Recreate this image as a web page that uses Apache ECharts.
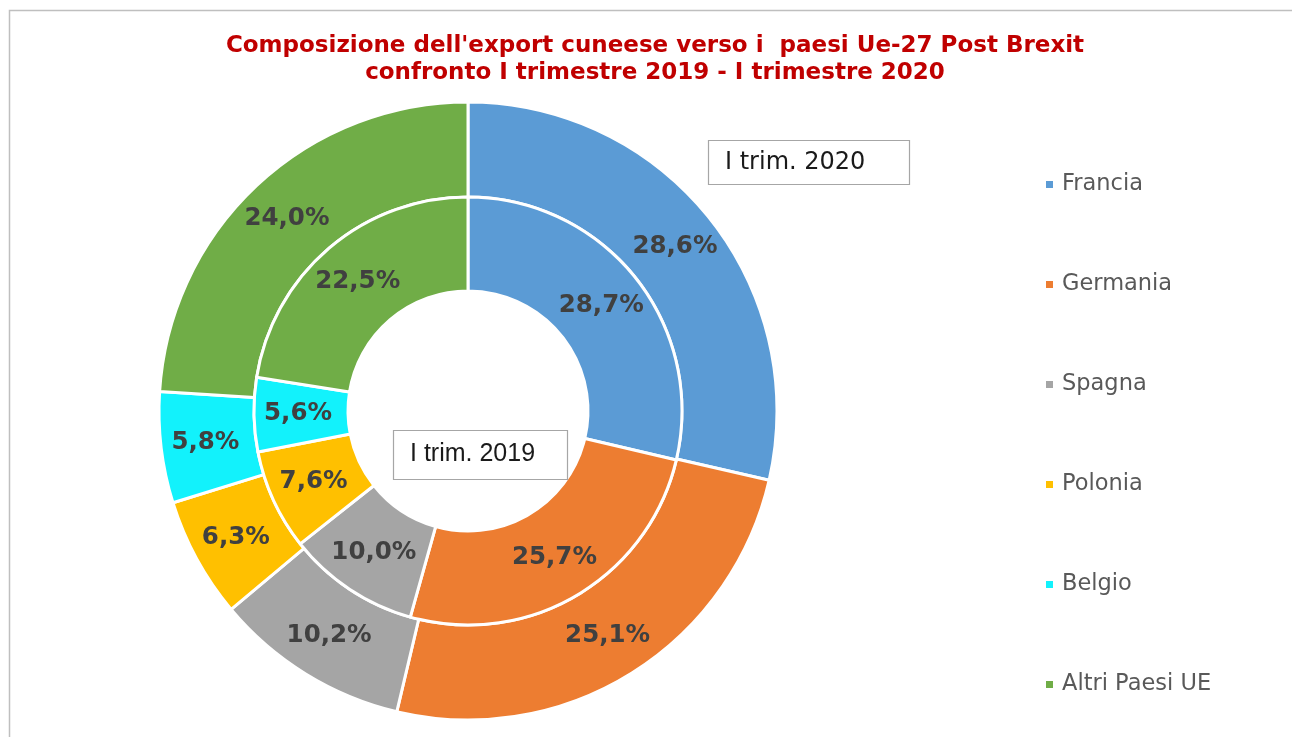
<!DOCTYPE html>
<html>
<head>
<meta charset="utf-8">
<script src="https://cdn.jsdelivr.net/npm/echarts@6/dist/echarts.min.js"></script>
<style>
html,body{margin:0;padding:0;background:#fff;}
#chart{width:1292px;height:737px;}
</style>
</head>
<body>
<div id="chart"></div>
<script>
const categories = ['Francia', 'Germania', 'Spagna', 'Polonia', 'Belgio', 'Altri Paesi UE'];
const values2020 = [28.6, 25.1, 10.2, 6.3, 5.8, 24.0];
const values2019 = [28.7, 25.7, 10.0, 7.6, 5.6, 22.5];
const colors = ['#5B9BD5', '#ED7D31', '#A5A5A5', '#FFC000', '#12F2FC', '#70AD47'];
const titleLines = ["Composizione dell'export cuneese verso i  paesi Ue-27 Post Brexit", 'confronto I trimestre 2019 - I trimestre 2020'];
const boxLabels = ['I trim. 2020', 'I trim. 2019'];

const fmt = p => p.value.toFixed(1).replace('.', ',') + '%';
const mk = vals => categories.map((c, i) => ({ name: c, value: vals[i] }));

const chart = echarts.init(document.getElementById('chart'));
const labelStyle = {
  show: true, position: 'inside', formatter: fmt,
  fontFamily: 'DejaVu Sans', fontWeight: 'bold', fontSize: 24.5, color: '#404040'
};
chart.setOption({
  animation: false,
  color: colors,
  title: {
    text: titleLines.join('\n'),
    left: 655, top: 33, textAlign: 'center', padding: 0,
    textStyle: { fontFamily: 'DejaVu Sans', fontWeight: 'bold', fontSize: 23, color: '#C00000', lineHeight: 27 }
  },
  legend: {
    orient: 'vertical', left: 1044, top: 173, padding: 0,
    itemWidth: 9, itemHeight: 9, itemGap: 77, icon: 'rect',
    data: categories,
    textStyle: { fontFamily: 'DejaVu Sans', fontSize: 22.5, color: '#595959', lineHeight: 22, padding: [0, 0, 0, 3] }
  },
  graphic: [
    { type: 'rect', shape: { x: 9.5, y: 10.5, width: 1300, height: 740 }, style: { fill: 'none', stroke: '#BFBFBF', lineWidth: 1.5 }, silent: true, z: -1 },
    { type: 'rect', shape: { x: 708.5, y: 140.5, width: 201, height: 44 }, style: { fill: '#fff', stroke: '#A6A6A6', lineWidth: 1.2 }, z: 10 },
    { type: 'text', left: 725, top: 151, style: { text: boxLabels[0], fontFamily: 'DejaVu Sans', fontSize: 24, fill: '#1a1a1a' }, z: 11 },
    { type: 'rect', shape: { x: 393.5, y: 430.5, width: 174, height: 49 }, style: { fill: '#fff', stroke: '#A6A6A6', lineWidth: 1.2 }, z: 10 },
    { type: 'text', left: 410, top: 442, style: { text: boxLabels[1], fontFamily: 'Liberation Sans', fontSize: 25, fill: '#1a1a1a' }, z: 11 }
  ],
  series: [
    {
      name: 'I trim. 2020', type: 'pie', center: [468, 411], radius: [214, 309],
      startAngle: 90, clockwise: true, avoidLabelOverlap: false,
      itemStyle: { borderColor: '#fff', borderWidth: 3 },
      label: labelStyle, labelLine: { show: false },
      data: mk(values2020)
    },
    {
      name: 'I trim. 2019', type: 'pie', center: [468, 411], radius: [120, 214],
      startAngle: 90, clockwise: true, avoidLabelOverlap: false,
      itemStyle: { borderColor: '#fff', borderWidth: 3 },
      label: labelStyle, labelLine: { show: false },
      data: mk(values2019)
    }
  ]
});
</script>
</body>
</html>
